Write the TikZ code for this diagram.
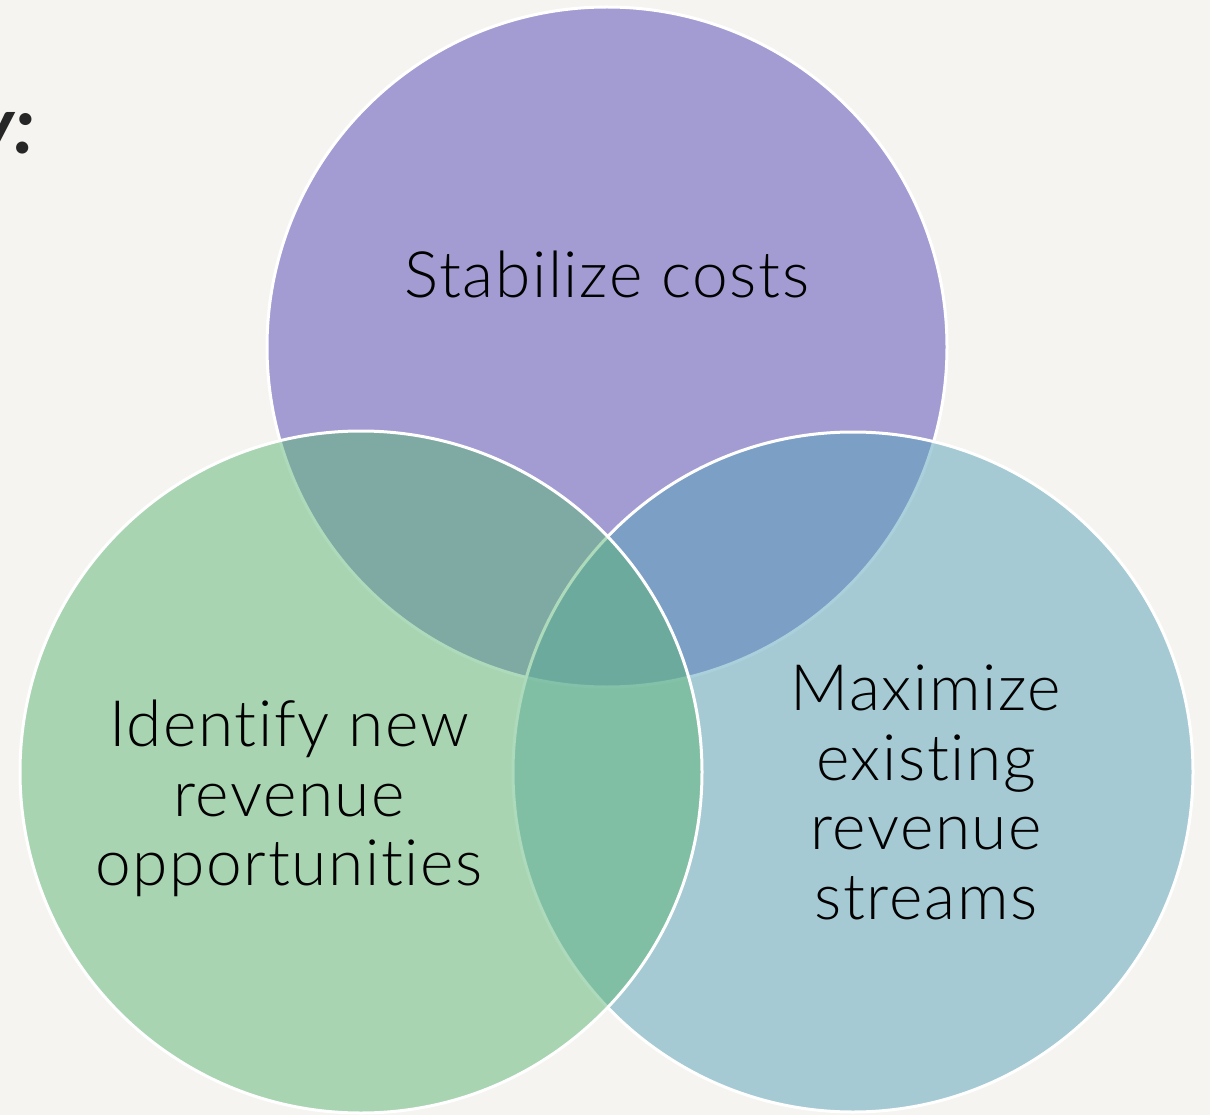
\documentclass[tikz,border=0pt]{standalone}
\usepackage{fontspec}
\setmainfont{Lato}[UprightFont={* Light}, BoldItalicFont={* Bold Italic}, Ligatures=NoCommon]
\newfontfamily\headfont{Lato}[UprightFont={* Bold Italic}]
\definecolor{bgc}{RGB}{245,244,240}
\definecolor{topc}{RGB}{163,156,210}
\definecolor{rightc}{RGB}{87,162,186}
\definecolor{leftc}{RGB}{93,182,118}
\definecolor{headc}{RGB}{38,38,38}
\tikzset{
  ring/.style={draw=white, line width=3pt},
  lbl/.style={anchor=base, inner sep=0pt, text=black, font=\fontsize{64}{70}\selectfont\addfontfeature{LetterSpace=2.5}},
}
\begin{document}
\begin{tikzpicture}[x=1pt,y=-1pt]
\useasboundingbox (0,0) rectangle (1210,1115);
\fill[bgc] (0,0) rectangle (1210,1115);
\node[anchor=base east, inner sep=0pt, text=headc, font=\fontsize{80}{90}\selectfont\headfont] (head) at (35,154) {y:};
\path[ring, fill=topc] (607,347) circle (340);
\path[ring, fill=rightc, fill opacity=0.5] (853,772) circle (340);
\path[ring, fill=leftc, fill opacity=0.5] (361,772) circle (341);
\node[lbl] (t1) at (607,297.5) {Stabilize costs};
\node[lbl] (l1) at (289,746.5) {Identify new};
\node[lbl] (l2) at (289,816) {revenue};
\node[lbl] (l3) at (289,885.5) {opportunities};
\node[lbl] (r1) at (926,710.5) {Maximize};
\node[lbl] (r2) at (926,780) {existing};
\node[lbl] (r3) at (926,849.5) {revenue};
\node[lbl] (r4) at (926,919) {streams};
\end{tikzpicture}
\end{document}
